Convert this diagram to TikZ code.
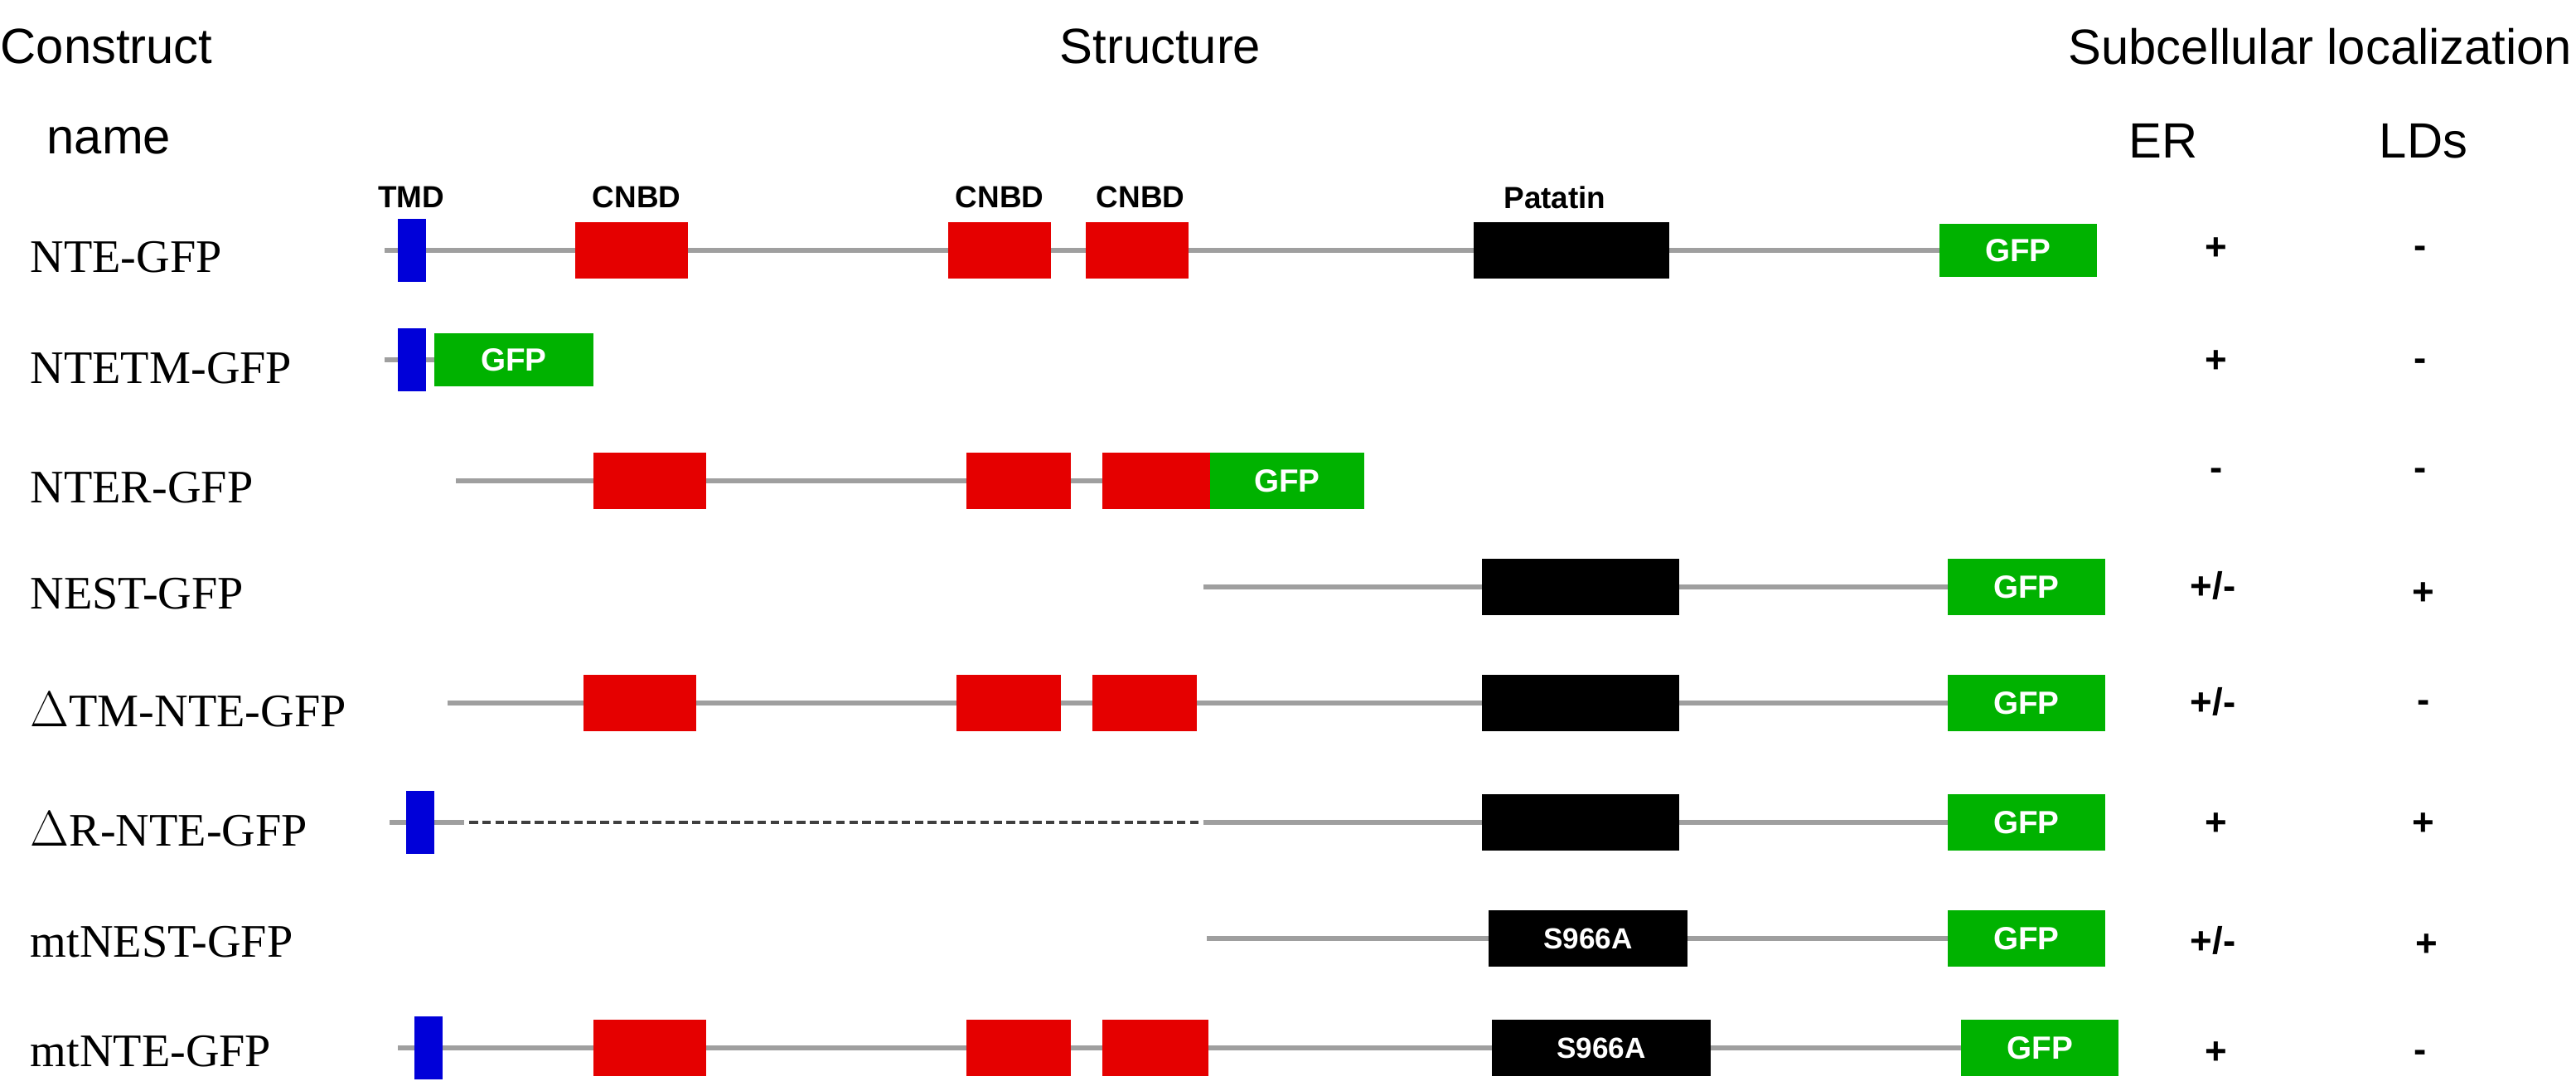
\documentclass[tikz,border=0pt]{standalone}
\usepackage{fontspec}
\setmainfont{Liberation Serif}
\setsansfont{Liberation Sans}
\begin{document}
\begin{tikzpicture}[x=0.02cm,y=-0.02cm,
 hdr/.style={font=\sffamily\fontsize{17}{19}\selectfont,inner sep=0},
 cname/.style={font=\fontsize{16}{18}\selectfont,anchor=west,inner sep=0},
 dlab/.style={font=\sffamily\bfseries\fontsize{10.5}{12}\selectfont,inner sep=0},
 val/.style={font=\sffamily\bfseries\fontsize{13}{15}\selectfont,inner sep=0},
 bb/.style={line width=1.8pt,draw=gray!75},
 tmd/.style={fill=blue!85!black,draw=none},
 cnbd/.style={fill=red!90!black,draw=none},
 pat/.style={fill=black,draw=none,text=white,font=\sffamily\bfseries\fontsize{10}{12}\selectfont},
 gfp/.style={fill=green!70!black,draw=none,text=white,font=\sffamily\bfseries\fontsize{11}{12}\selectfont}]
\useasboundingbox (0,0) rectangle (1554,658);
\node[hdr,anchor=west] (h1) at (0,28) {Construct};
\node[hdr,anchor=west] (h2) at (28,85) {name};
\node[hdr] (h3) at (700,28) {Structure};
\node[hdr,anchor=east] (h4) at (1552,28) {Subcellular localization};
\node[hdr] (h5) at (1305,85) {ER};
\node[hdr] (h6) at (1462,85) {LDs};
% domain labels
\node[dlab] (l1) at (248,119) {TMD};
\node[dlab] (l2) at (384,119) {CNBD};
\node[dlab] (l3) at (603,119) {CNBD};
\node[dlab] (l4) at (688,119) {CNBD};
\node[dlab] (l5) at (938,119) {Patatin};
\newcommand{\bx}[6]{\path[#1] (#2,#4-#5) rectangle (#3,#4+#5) node[midway] {#6};}
% row 1
\node[cname] (n1) at (18,155) {NTE-GFP};
\draw[bb] (232,151) -- (1170,151);
\bx{tmd}{240}{257}{151}{19}{}
\bx{cnbd}{347}{415}{151}{17}{}
\bx{cnbd}{572}{634}{151}{17}{}
\bx{cnbd}{655}{717}{151}{17}{}
\bx{pat}{889}{1007}{151}{17}{}
\bx{gfp}{1170}{1265}{151}{16}{GFP}
% row 2
\node[cname] (n2) at (18,222) {NTETM-GFP};
\draw[bb] (232,217) -- (265,217);
\bx{tmd}{240}{257}{217}{19}{}
\bx{gfp}{262}{358}{217}{16}{GFP}
% row 3
\node[cname] (n3) at (18,294) {NTER-GFP};
\draw[bb] (275,290) -- (730,290);
\bx{cnbd}{358}{426}{290}{17}{}
\bx{cnbd}{583}{646}{290}{17}{}
\bx{cnbd}{665}{730}{290}{17}{}
\bx{gfp}{730}{823}{290}{17}{GFP}
% row 4
\node[cname] (n4) at (18,358) {NEST-GFP};
\draw[bb] (726,354) -- (1175,354);
\bx{pat}{894}{1013}{354}{17}{}
\bx{gfp}{1175}{1270}{354}{17}{GFP}
% row 5
\node[cname] (n5) at (18,428) {$\Delta$TM-NTE-GFP};
\draw[bb] (270,424) -- (1175,424);
\bx{cnbd}{352}{420}{424}{17}{}
\bx{cnbd}{577}{640}{424}{17}{}
\bx{cnbd}{659}{722}{424}{17}{}
\bx{pat}{894}{1013}{424}{17}{}
\bx{gfp}{1175}{1270}{424}{17}{GFP}
% row 6
\node[cname] (n6) at (18,500) {$\Delta$R-NTE-GFP};
\draw[bb] (235,496) -- (280,496);
\draw[line width=1.2pt,dash pattern=on 3pt off 1.5pt,draw=black!75] (283,496) -- (726,496);
\draw[bb] (726,496) -- (1175,496);
\bx{tmd}{245}{262}{496}{19}{}
\bx{pat}{894}{1013}{496}{17}{}
\bx{gfp}{1175}{1270}{496}{17}{GFP}
% row 7
\node[cname] (n7) at (18,568) {mtNEST-GFP};
\draw[bb] (728,566) -- (1175,566);
\bx{pat}{898}{1018}{566}{17}{S966A}
\bx{gfp}{1175}{1270}{566}{17}{GFP}
% row 8
\node[cname] (n8) at (18,634) {mtNTE-GFP};
\draw[bb] (240,632) -- (1183,632);
\bx{tmd}{250}{267}{632}{19}{}
\bx{cnbd}{358}{426}{632}{17}{}
\bx{cnbd}{583}{646}{632}{17}{}
\bx{cnbd}{665}{729}{632}{17}{}
\bx{pat}{900}{1032}{632}{17}{S966A}
\bx{gfp}{1183}{1278}{632}{17}{GFP}
% values
\node[val] (e1) at (1337,150) {+};  \node[val] (d1) at (1460,152) {-};
\node[val] (e2) at (1337,218) {+};  \node[val] (d2) at (1460,220) {-};
\node[val] (e3) at (1337,286) {-};  \node[val] (d3) at (1460,286) {-};
\node[val] (e4) at (1335,353) {+/-};\node[val] (d4) at (1462,358) {+};
\node[val] (e5) at (1335,423) {+/-};\node[val] (d5) at (1462,426) {-};
\node[val] (e6) at (1337,497) {+};  \node[val] (d6) at (1462,497) {+};
\node[val] (e7) at (1335,567) {+/-};\node[val] (d7) at (1464,570) {+};
\node[val] (e8) at (1337,635) {+};  \node[val] (d8) at (1460,637) {-};
\end{tikzpicture}
\end{document}
